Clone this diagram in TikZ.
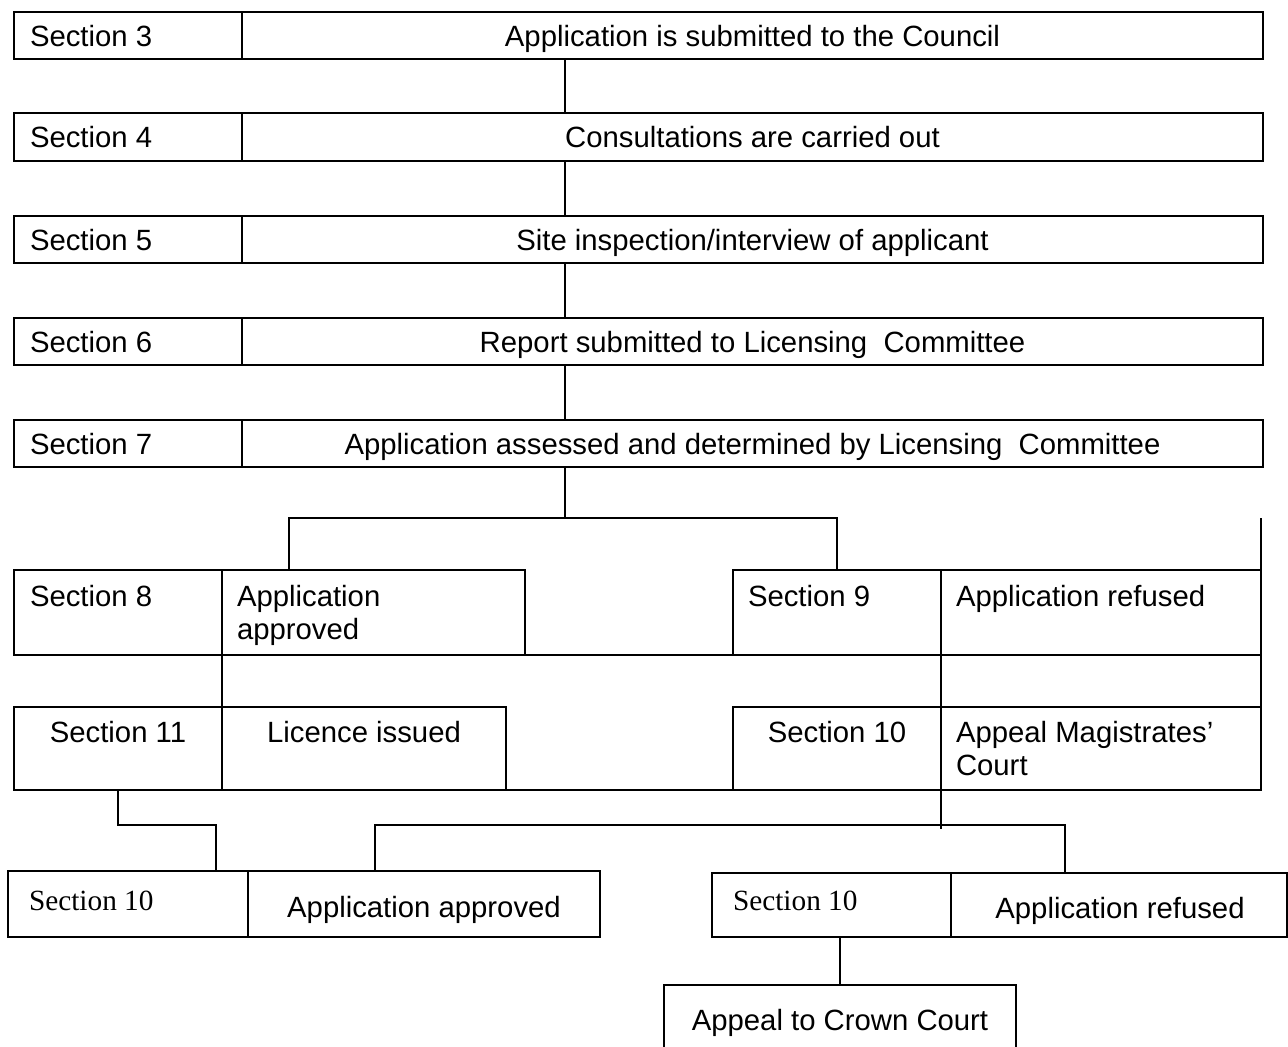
\documentclass[tikz,border=0pt]{standalone}
\usepackage{fontspec}
\setmainfont{Liberation Sans}
\newfontfamily\serifb{Liberation Serif}
\newcommand\cellbox[5]{\node[cellb, minimum width={(#4-#2)*1pt}, minimum height={(#5-#3)*1pt}] (#1) at (#2,#3) {};}
\begin{document}
\begin{tikzpicture}[x=1pt,y=-1pt,
  cellb/.style={draw, line width=1.8pt, inner sep=0pt, outer sep=0pt, anchor=north west},
  lbl/.style={inner sep=0pt, outer sep=0pt, font=\fontsize{29.3}{33}\selectfont},
  slbl/.style={inner sep=0pt, outer sep=0pt, font=\serifb\fontsize{29.3}{33}\selectfont},
  conn/.style={line width=1.8pt}]
\path[use as bounding box, clip] (0,0) rectangle (1288,1047);
\fill[white] (0,0) rectangle (1288,1047);

% top rows
\cellbox{r1a}{14}{12}{242}{59}   \cellbox{r1b}{242}{12}{1263}{59}
\cellbox{r2a}{14}{113}{242}{161} \cellbox{r2b}{242}{113}{1263}{161}
\cellbox{r3a}{14}{216}{242}{263} \cellbox{r3b}{242}{216}{1263}{263}
\cellbox{r4a}{14}{318}{242}{365} \cellbox{r4b}{242}{318}{1263}{365}
\cellbox{r5a}{14}{420}{242}{467} \cellbox{r5b}{242}{420}{1263}{467}

\node[lbl, anchor=base west] (t1a) at (30,46) {Section 3};
\node[lbl, anchor=base] (t1b) at (752.5,46) {Application is submitted to the Council};
\node[lbl, anchor=base west] (t2a) at (30,147.5) {Section 4};
\node[lbl, anchor=base] (t2b) at (752.5,147.5) {Consultations are carried out};
\node[lbl, anchor=base west] (t3a) at (30,250) {Section 5};
\node[lbl, anchor=base] (t3b) at (752.5,250) {Site inspection/interview of applicant};
\node[lbl, anchor=base west] (t4a) at (30,352) {Section 6};
\node[lbl, anchor=base] (t4b) at (752.5,352) {Report submitted to Licensing~~Committee};
\node[lbl, anchor=base west] (t5a) at (30,454) {Section 7};
\node[lbl, anchor=base] (t5b) at (752.5,454) {Application assessed and determined by Licensing~~Committee};

\coordinate (cx) at (565,0);
\draw[conn] (r1b.south -| cx) -- (r2b.north -| cx);
\draw[conn] (r2b.south -| cx) -- (r3b.north -| cx);
\draw[conn] (r3b.south -| cx) -- (r4b.north -| cx);
\draw[conn] (r4b.south -| cx) -- (r5b.north -| cx);

% sections 8 and 9
\cellbox{s8a}{14}{570}{222}{655}  \cellbox{s8b}{222}{570}{525}{655}
\cellbox{s9a}{733}{570}{941}{655} \cellbox{s9b}{941}{570}{1261}{655}
\node[lbl, anchor=base west] (t8a) at (30,606) {Section 8};
\node[lbl, anchor=base west] (t8b) at (237,606) {Application};
\node[lbl, anchor=base west] (t8c) at (237,639) {approved};
\node[lbl, anchor=base west] (t9a) at (748,606) {Section 9};
\node[lbl, anchor=base west] (t9b) at (956,606) {Application refused};

\coordinate (j1) at (565,518);
\coordinate (t8) at (289,570);
\draw[conn] (r5b.south -| j1) -- (j1);
\draw[conn] (t8) -- (t8 |- j1) -- (s9a.north |- j1) -- (s9a.north);
\draw[conn] (s9b.north east) -- (s9b.north east |- j1);

% sections 11 and 10
\cellbox{s11a}{14}{707}{222}{790}  \cellbox{s11b}{222}{707}{506}{790}
\cellbox{s10a}{733}{707}{941}{790} \cellbox{s10b}{941}{707}{1261}{790}
\node[lbl, anchor=base] (t11a) at (118,742) {Section 11};
\node[lbl, anchor=base] (t11b) at (364,742) {Licence issued};
\node[lbl, anchor=base] (t10a) at (837,742) {Section 10};
\node[lbl, anchor=base west] (t10b) at (956,742) {Appeal Magistrates’};
\node[lbl, anchor=base west] (t10c) at (956,775) {Court};

\draw[conn] (s8a.south east) -- (s11a.north east);
\draw[conn] (s9b.south west) -- (s10b.north west);
\draw[conn] (s9b.south east) -- (s10b.north east);
\draw[conn] (s8b.south east) -- (s9a.south west);
\draw[conn] (s11b.south east) -- (s10a.south west);

% bottom boxes
\cellbox{bl1}{8}{871}{248}{937}   \cellbox{bl2}{248}{871}{600}{937}
\cellbox{br1}{712}{873}{951}{937} \cellbox{br2}{951}{873}{1287}{937}
\cellbox{crown}{664}{985}{1016}{1075}
\node[slbl, anchor=base west] (tb1) at (29,910) {Section 10};
\node[lbl, anchor=base] (tb2) at (424,917) {Application approved};
\node[slbl, anchor=base west] (tb3) at (733,910) {Section 10};
\node[lbl, anchor=base] (tb4) at (1120,918) {Application refused};
\node[lbl, anchor=base] (tb5) at (840,1030) {Appeal to Crown Court};

\coordinate (k1) at (216,825);
\draw[conn] (s11a.south) -- (s11a.south |- k1) -- (k1) -- (k1 |- bl1.north);
\coordinate (k2) at (941,829);
\draw[conn] (s10b.south west) -- (k2);
\coordinate (k3) at (375,825);
\coordinate (k4) at (1065,825);
\draw[conn] (k3 |- bl2.north) -- (k3) -- (k4) -- (k4 |- br2.north);
\draw[conn] (crown.north |- br1.south) -- (crown.north);
\end{tikzpicture}
\end{document}
